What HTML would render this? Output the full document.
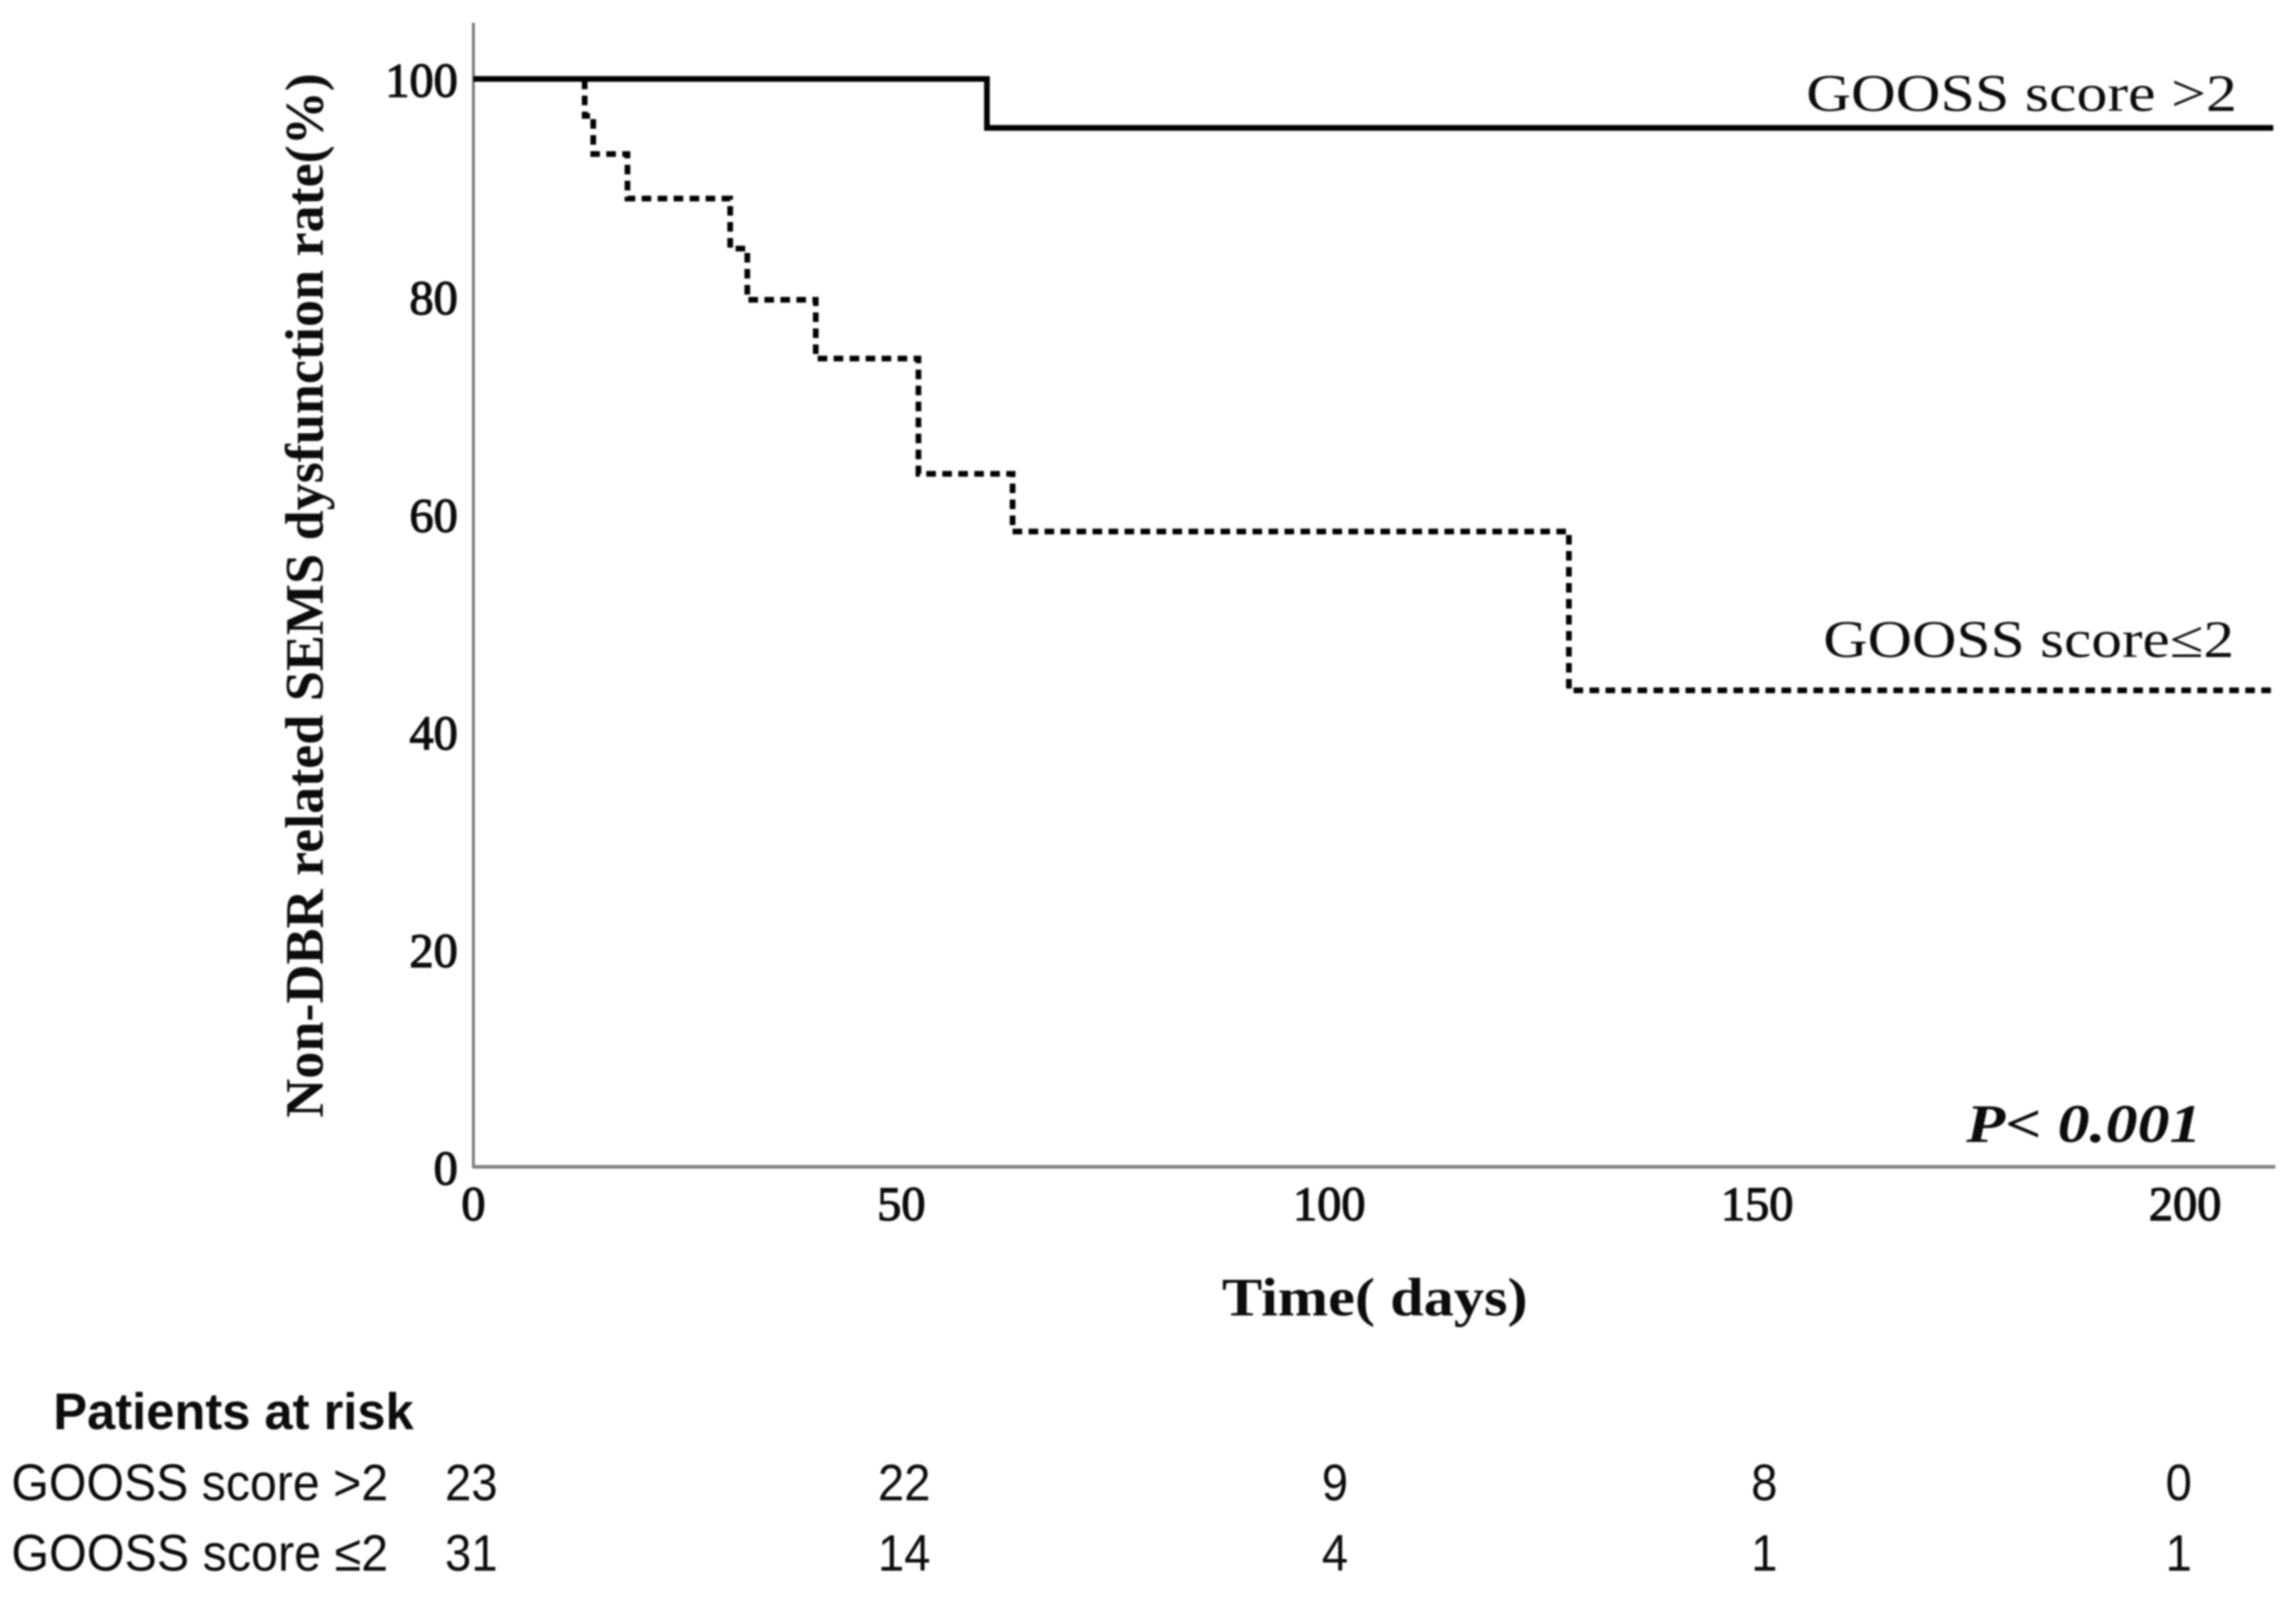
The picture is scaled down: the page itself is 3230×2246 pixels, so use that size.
<!DOCTYPE html>
<html lang="en">
<head>
<meta charset="utf-8">
<title>Non-DBR related SEMS dysfunction rate</title>
<style>
  html, body { margin: 0; padding: 0; background: #fff; }
  #chart { display: block; width: 3230px; height: 2246px; filter: blur(1.2px); }
  text { fill: #0c0c0c; }
  .tick { font: 68px "Liberation Serif", serif; stroke: #0c0c0c; stroke-width: 1.7px; }
  .y-title { font: bold 76px "Liberation Serif", serif; }
  .x-title { font: bold 76px "Liberation Serif", serif; }
  .curve-label { font: 74px "Liberation Serif", serif; }
  .risk { font: 72px "Liberation Sans", sans-serif; }
</style>
</head>
<body>
<svg id="chart" xmlns="http://www.w3.org/2000/svg" width="3230" height="2246" viewBox="0 0 3230 2246">
  <rect width="3230" height="2246" fill="#fff"/>
  <g id="axes"></g>
  <g id="series"></g>
  <g id="ticks"></g>

  <text class="y-title" transform="translate(454,1572) rotate(-90)" textLength="1469" lengthAdjust="spacingAndGlyphs">Non-DBR related SEMS dysfunction rate(%)</text>
  <text class="x-title" x="1719" y="1850" textLength="430" lengthAdjust="spacingAndGlyphs">Time( days)</text>

  <text class="curve-label" x="2541" y="156" textLength="606" lengthAdjust="spacingAndGlyphs">GOOSS score &gt;2</text>
  <text class="curve-label" x="2565" y="924" textLength="578" lengthAdjust="spacingAndGlyphs">GOOSS score≤2</text>
  <text x="2766" y="1606" textLength="331" lengthAdjust="spacingAndGlyphs" style="font:italic bold 76px 'Liberation Serif',serif">P&lt; 0.001</text>

  <text class="risk" x="75" y="2010" textLength="507" lengthAdjust="spacingAndGlyphs" style="font-weight:bold">Patients at risk</text>
  <g id="risk"></g>
</svg>

<script>
// Chart data
const xTicks = [0, 50, 100, 150, 200];
const yTicks = [0, 20, 40, 60, 80, 100];
const highTimes = [0, 60, 210.3];
const highValues = [100, 95.5, 95.5];
const lowTimes = [0, 13, 14, 18, 30, 32, 40, 52, 63, 128, 210.3];
const lowValues = [100, 96.6, 93.1, 89, 84.4, 79.7, 74.3, 63.7, 58.4, 43.8, 43.8];
const riskLabels = ['GOOSS score >2', 'GOOSS score ≤2'];
const riskHigh = [23, 22, 9, 8, 0];
const riskLow = [31, 14, 4, 1, 1];

const NS = 'http://www.w3.org/2000/svg';
const xScale = d => 666 + d * 12.04;
const yScale = v => 1641 - v * 15.3;

function make(tag, attrs, parent) {
  const el = document.createElementNS(NS, tag);
  for (const k in attrs) el.setAttribute(k, attrs[k]);
  parent.appendChild(el);
  return el;
}

function stepPath(times, values) {
  let d = 'M' + xScale(times[0]) + ' ' + yScale(values[0]);
  for (let i = 1; i < times.length; i++) {
    d += ' H' + xScale(times[i]) + ' V' + yScale(values[i]);
  }
  return d;
}

// Axes
const axes = document.getElementById('axes');
const yAxis = make('line', { x1: xScale(0), x2: xScale(0), y1: 32, y2: yScale(0) + 2, stroke: '#7a7a7a', 'stroke-width': 4 }, axes);


const xAxis = make('line', { x1: xScale(0), x2: 3201, y1: yScale(0), y2: yScale(0), stroke: '#808080', 'stroke-width': 5 }, axes);



// Series
const series = document.getElementById('series');
const lowCurve = make('path', { d: stepPath(lowTimes, lowValues), fill: 'none', stroke: '#000', 'stroke-width': 8, 'stroke-dasharray': '13.5 9' }, series);


const highCurve = make('path', { d: stepPath(highTimes, highValues), fill: 'none', stroke: '#000', 'stroke-width': 8 }, series);



// Tick labels
const ticks = document.getElementById('ticks');
xTicks.forEach(t => {
  const el = make('text', { x: xScale(t), y: 1716, 'text-anchor': 'middle', class: 'tick' }, ticks);
  
  
  el.textContent = t;
});
yTicks.forEach(t => {
  const el = make('text', { x: 644, y: yScale(t) + 25, 'text-anchor': 'end', class: 'tick' }, ticks);
  
  
  el.textContent = t;
});

// Risk table
const risk = document.getElementById('risk');
const riskRows = [riskHigh, riskLow];
riskRows.forEach((row, r) => {
  const rowY = 2110 + r * 99;
  const label = make('text', { x: 16, y: rowY, class: 'risk', textLength: 530, lengthAdjust: 'spacingAndGlyphs' }, risk);
  
  
  label.textContent = riskLabels[r];
  row.forEach((n, i) => {
    const cell = make('text', { x: xScale(xTicks[i]) + [-3, 4, 8, 10, -9][i], y: rowY, 'text-anchor': 'middle', class: 'risk' }, risk);
    
    
    cell.setAttribute('textLength', String(n).length * 37);
    cell.setAttribute('lengthAdjust', 'spacingAndGlyphs');
    cell.textContent = n;
  });
});
</script>
</body>
</html>
